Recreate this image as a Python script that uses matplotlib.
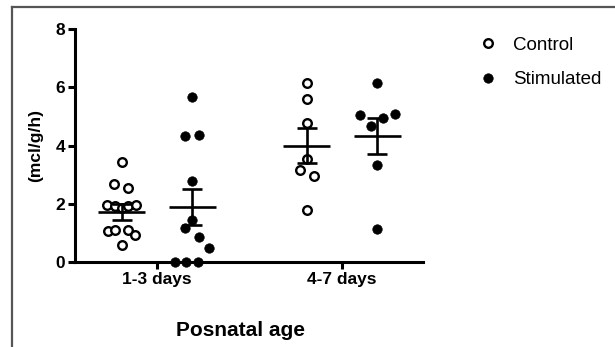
import numpy as np
import matplotlib.pyplot as plt
from matplotlib.lines import Line2D

plt.rcParams['font.family'] = ['Liberation Sans', 'DejaVu Sans']

groups = ['1-3 days', '4-7 days']
series = ['Control', 'Stimulated']

# values (mcl/g/h)
ctrl_13 = [3.42, 2.68, 2.54, 1.95, 1.92, 1.85, 1.92, 1.95, 1.05, 1.11, 1.11, 0.94, 0.60]
stim_13 = [5.67, 4.32, 4.35, 2.77, 1.43, 1.17, 0.86, 0.47, 0.0, 0.0, 0.0]
ctrl_47 = [6.13, 5.60, 4.77, 3.54, 3.17, 2.94, 1.77]
stim_47 = [6.13, 5.06, 4.95, 5.09, 4.66, 3.34, 1.14]

means = {'Control': [1.71, 4.00], 'Stimulated': [1.89, 4.34]}
sems = {'Control': [0.27, 0.59], 'Stimulated': [0.61, 0.62]}

# horizontal scatter of the dots (pixels, converted below)
jit_ctrl_13 = [0, -7.5, 6.5, -15, -7, 0, 6.5, 14.5, -13.5, -7, 6.5, 13, 0]
jit_stim_13 = [0, -7.5, 6.5, 0, 0, -7.5, 6.5, 17, -17, -6, 5.5]
jit_ctrl_47 = [0, 0, 0, 0, -7, 7, 0]
jit_stim_47 = [0, -17, 6, 18, -6, 0, 0]

px = 1 / 185.0
off = 0.19

fig = plt.figure(figsize=(6.15, 3.47), dpi=100)
ax = fig.add_axes([75 / 615, 1 - 262 / 347, (423 - 75) / 615, (262 - 29) / 347])

data = {'Control': [ctrl_13, ctrl_47], 'Stimulated': [stim_13, stim_47]}
jits = {'Control': [jit_ctrl_13, jit_ctrl_47], 'Stimulated': [jit_stim_13, jit_stim_47]}
mstyle = {'Control': dict(ms=6.2, mfc='white', mec='black', mew=1.7),
          'Stimulated': dict(ms=6.8, mfc='black', mec='black', mew=0.5)}

for s, sign in [('Control', -1), ('Stimulated', 1)]:
    for g in range(2):
        xc = g + sign * off
        vals = np.array(data[s][g])
        xs = xc + np.array(jits[s][g]) * px
        ax.plot(xs, vals, 'o', ls='none', clip_on=False, zorder=3, **mstyle[s])
        ax.hlines(means[s][g], xc - 0.127, xc + 0.127, color='black', lw=1.9, zorder=4)
        ax.errorbar(xc, means[s][g], yerr=sems[s][g], fmt='none', ecolor='black',
                    elinewidth=1.9, capsize=7.2, capthick=1.9, zorder=4)

ax.set_xlim(-0.443, 1.438)
ax.set_ylim(0, 8)
ax.set_yticks([0, 2, 4, 6, 8])
ax.set_xticks([0, 1])
ax.set_xticklabels(groups)
for sp in ['top', 'right']:
    ax.spines[sp].set_visible(False)
for sp in ['left', 'bottom']:
    ax.spines[sp].set_linewidth(2.2)
ax.tick_params(axis='both', width=2.2, length=5, labelsize=12.5, pad=2)
for lab in ax.get_xticklabels() + ax.get_yticklabels():
    lab.set_fontweight('bold')
ax.set_ylabel('(mcl/g/h)', fontsize=12.5, fontweight='bold', labelpad=9)
fig.text(240 / 615, 1 - 330 / 347, 'Posnatal age', fontsize=15, fontweight='bold',
         ha='center', va='center')

handles = [Line2D([], [], marker='o', ls='none', **mstyle['Control']),
           Line2D([], [], marker='o', ls='none', **mstyle['Stimulated'])]
fig.legend(handles, series, loc='upper left', bbox_to_anchor=(469 / 615, 1 - 27 / 347),
           frameon=False, fontsize=13.5, handletextpad=0.85, labelspacing=0.95,
           handlelength=1.0, borderpad=0)

# grey frame around the panel
fig.add_artist(Line2D([12 / 615, 12 / 615], [0, 1 - 7 / 347], color='#555555', lw=1.6))
fig.add_artist(Line2D([12 / 615, 1], [1 - 7 / 347, 1 - 7 / 347], color='#555555', lw=1.6))

fig.savefig('out.png', dpi=100)
